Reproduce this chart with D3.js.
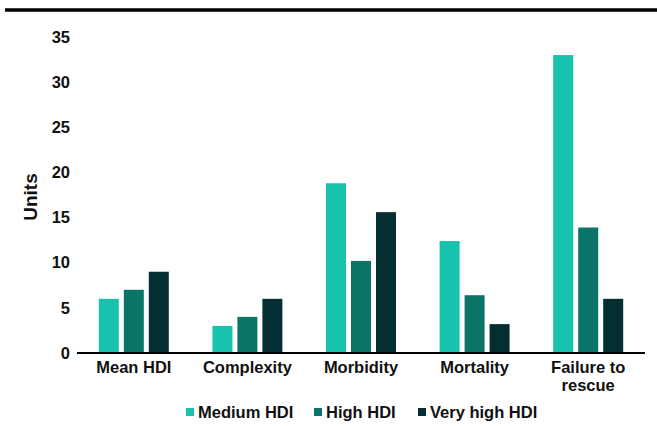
<!DOCTYPE html>
<html>
<head>
<meta charset="utf-8">
<script src="https://cdn.jsdelivr.net/npm/d3@7"></script>
<style>
  html, body { margin: 0; padding: 0; background: #fff; }
  svg text { font-family: "Liberation Sans", Arial, sans-serif; font-weight: bold; fill: #111; }
</style>
</head>
<body>
<div id="chart"></div>
<script>
// データ
const categories = ['Mean HDI', 'Complexity', 'Morbidity', 'Mortality', 'Failure to rescue'];
const seriesNames = ['Medium HDI', 'High HDI', 'Very high HDI'];
const mediumHDI = [6, 3, 18.8, 12.4, 33.0];
const highHDI = [7, 4, 10.2, 6.4, 13.9];
const veryHighHDI = [9, 6, 15.6, 3.2, 6.0];
const yTicks = [0, 5, 10, 15, 20, 25, 30, 35];

const colors = ['#17c3ad', '#0b7468', '#042e32'];

// 設定値
const W = 657, H = 426;
const M = { left: 77, right: 12, top: 37, bottom: 73 };
const FS = 16.5;

const svg = d3.select('#chart').append('svg')
  .attr('width', W).attr('height', H);

// 上部の太線
svg.append('line')
  .attr('x1', 5).attr('x2', W).attr('y1', 10).attr('y2', 10)
  .attr('stroke', '#000').attr('stroke-width', 3.5);

const x0 = d3.scaleBand()
  .domain(categories)
  .range([M.left, W - M.right])
  .paddingInner(0.384)
  .paddingOuter(0.192);

const x1 = d3.scaleBand()
  .domain(seriesNames)
  .range([0, x0.bandwidth()])
  .paddingInner(0.2)
  .paddingOuter(0);

const y = d3.scaleLinear()
  .domain([0, 35])
  .range([H - M.bottom, M.top]);

const color = d3.scaleOrdinal().domain(seriesNames).range(colors);

const rows = categories.map((c, i) => ({
  cat: c,
  vals: [mediumHDI[i], highHDI[i], veryHighHDI[i]].map((v, j) => ({ key: seriesNames[j], v }))
}));

// Y軸（線なし）
const yAxis = svg.append('g')
  .attr('transform', `translate(${M.left - 7},0)`)
  .call(d3.axisLeft(y).tickValues(yTicks).tickSize(0).tickPadding(0));
yAxis.select('.domain').remove();
yAxis.selectAll('text').attr('font-size', FS).attr('fill', '#111');

// Y軸タイトル
svg.append('text')
  .attr('transform', `translate(37,${(y(0) + y(35)) / 2 + 2}) rotate(-90)`)
  .attr('text-anchor', 'middle')
  .attr('font-size', 19)
  .text('Units');

// 棒
svg.append('g').selectAll('g')
  .data(rows)
  .join('g')
  .attr('transform', (d) => `translate(${x0(d.cat)},0)`)
  .selectAll('rect')
  .data((d) => d.vals)
  .join('rect')
  .attr('x', (d) => x1(d.key))
  .attr('width', x1.bandwidth())
  .attr('y', (d) => y(d.v))
  .attr('height', (d) => y(0) - y(d.v))
  .attr('fill', (d) => color(d.key));

// X軸
const xAxis = svg.append('g')
  .attr('transform', `translate(0,${y(0)})`)
  .call(d3.axisBottom(x0).tickSize(0).tickPadding(8));
xAxis.select('.domain').attr('stroke', '#000').attr('stroke-width', 2)
  .attr('d', `M${M.left},0H${W - M.right}`);
xAxis.selectAll('text').attr('font-size', FS).attr('fill', '#111')
  .each(function (d) {
    if (d === 'Failure to rescue') {
      const t = d3.select(this).text(null);
      t.append('tspan').attr('x', 0).attr('dy', '0.71em').text('Failure to');
      t.append('tspan').attr('x', 0).attr('dy', '1.1em').text('rescue');
      t.attr('dy', null);
    }
  });

// 凡例
const legendX = [186, 314, 418];
const legend = svg.append('g').selectAll('g')
  .data(seriesNames)
  .join('g')
  .attr('transform', (d, i) => `translate(${legendX[i]},412)`);
legend.append('rect')
  .attr('x', 0).attr('y', -4).attr('width', 8).attr('height', 8)
  .attr('fill', (d) => color(d));
legend.append('text')
  .attr('x', 12).attr('dy', '0.36em')
  .attr('font-size', FS)
  .text((d) => d);
</script>
</body>
</html>
